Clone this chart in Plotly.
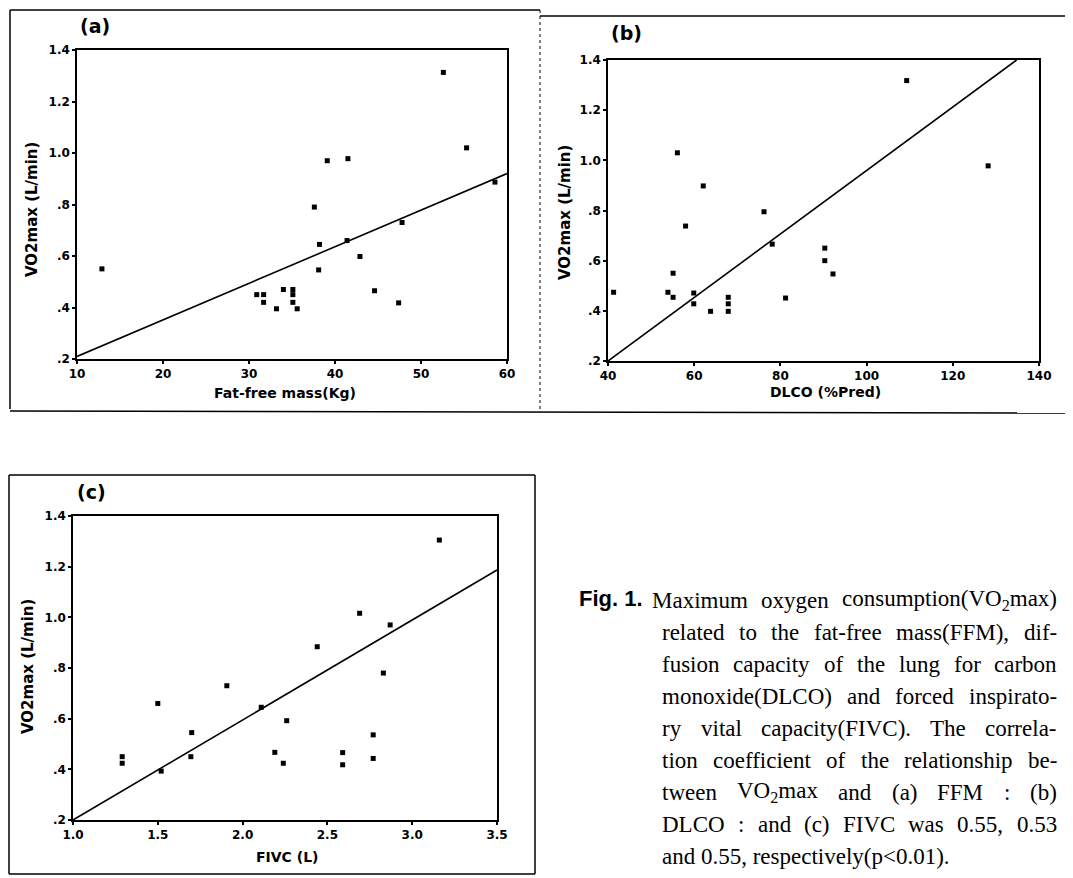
import plotly.graph_objects as go
import re

W, H = 1073, 878
OFF = 8  # page body margin offset, compensated so marks land where the reference has them

# ---------------- data ----------------
# (a) VO2max vs fat-free mass
ffm_x = [12.9, 30.9, 31.7, 31.7, 33.2, 34.0, 35.1, 35.1, 35.1, 35.6, 37.6, 38.2, 38.1,
         39.1, 41.4, 41.5, 42.9, 44.6, 47.4, 47.8, 52.6, 55.3, 58.6]
ffm_y = [0.55, 0.45, 0.45, 0.42, 0.395, 0.47, 0.47, 0.45, 0.42, 0.395, 0.79, 0.645, 0.546,
         0.97, 0.66, 0.978, 0.598, 0.465, 0.418, 0.73, 1.313, 1.02, 0.887]
ffm_fit_x = [10, 60]
ffm_fit_y = [0.21, 0.92]

# (b) VO2max vs DLCO
dlco_x = [41.3, 53.9, 55.1, 55.1, 56.1, 58.0, 59.9, 59.9, 62.1, 63.8, 67.9, 67.9, 67.9,
          76.2, 78.1, 81.2, 90.3, 90.3, 92.2, 109.3, 128.2]
dlco_y = [0.474, 0.474, 0.454, 0.55, 1.03, 0.738, 0.471, 0.428, 0.898, 0.398, 0.454, 0.428, 0.398,
          0.795, 0.666, 0.451, 0.65, 0.60, 0.547, 1.318, 0.978]
dlco_fit_x = [40, 134.8]
dlco_fit_y = [0.2, 1.4]

# (c) VO2max vs FIVC
fivc_x = [1.29, 1.29, 1.50, 1.52, 1.695, 1.70, 1.907, 2.11, 2.19, 2.24, 2.26, 2.44,
          2.59, 2.59, 2.69, 2.77, 2.77, 2.83, 2.87, 3.16]
fivc_y = [0.45, 0.424, 0.66, 0.393, 0.45, 0.545, 0.73, 0.645, 0.467, 0.424, 0.592, 0.884,
          0.466, 0.418, 1.016, 0.536, 0.443, 0.78, 0.97, 1.305]
fivc_fit_x = [1.0, 3.5]
fivc_fit_y = [0.2, 1.187]

y_tickvals = [0.2, 0.4, 0.6, 0.8, 1.0, 1.2, 1.4]
y_ticktext = [".2", ".4", ".6", ".8", "1.0", "1.2", "1.4"]
xa_tickvals = [10, 20, 30, 40, 50, 60]
xb_tickvals = [40, 60, 80, 100, 120, 140]
xc_tickvals = [1.0, 1.5, 2.0, 2.5, 3.0, 3.5]
xc_ticktext = ["1.0", "1.5", "2.0", "2.5", "3.0", "3.5"]

caption_lines = [
    "Maximum oxygen consumption(VO<sub>2</sub>max)",
    "related to the fat-free mass(FFM), dif-",
    "fusion capacity of the lung for carbon",
    "monoxide(DLCO) and forced inspirato-",
    "ry vital capacity(FIVC). The correla-",
    "tion coefficient of the relationship be-",
    "tween VO<sub>2</sub>max and (a) FFM : (b)",
    "DLCO : and (c) FIVC was 0.55, 0.53",
    "and 0.55, respectively(p<0.01).",
]

# ---------------- helpers ----------------
def px_x(p):
    return (p - OFF) / W

def px_y(p):
    return 1 - (p - OFF) / H

TICK_FONT = dict(family="DejaVu Sans", size=12, color="black", weight="bold")
TITLE_FONT = dict(family="DejaVu Sans", size=14, color="black", weight="bold")

fig = go.Figure()

panels = [
    ("", ffm_x, ffm_y, ffm_fit_x, ffm_fit_y, [10, 60], xa_tickvals, [str(v) for v in xa_tickvals], (77, 507), (50, 359)),
    ("2", dlco_x, dlco_y, dlco_fit_x, dlco_fit_y, [40, 140], xb_tickvals, [str(v) for v in xb_tickvals], (608, 1039), (60, 361)),
    ("3", fivc_x, fivc_y, fivc_fit_x, fivc_fit_y, [1.0, 3.5], xc_tickvals, xc_ticktext, (73, 497), (516, 820)),
]

for suf, xs, ys, fx, fy, xr, xtv, xtt, (x0, x1), (yt, yb) in panels:
    xa = "x" + suf
    ya = "y" + suf
    fig.add_trace(go.Scatter(x=fx, y=fy, mode="lines", line=dict(color="black", width=1.6),
                             xaxis=xa, yaxis=ya, showlegend=False, hoverinfo="skip"))
    fig.add_trace(go.Scatter(x=xs, y=ys, mode="markers",
                             marker=dict(symbol="square", size=5, color="black"),
                             xaxis=xa, yaxis=ya, showlegend=False))
    xkey = "xaxis" + suf
    ykey = "yaxis" + suf
    fig.layout[xkey] = dict(
        domain=[px_x(x0), px_x(x1)], range=xr, anchor=ya,
        tickvals=xtv, ticktext=xtt, ticks="outside", ticklen=3, tickwidth=1.5,
        tickcolor="black", showline=True, linecolor="black", linewidth=1.6,
        mirror=True, showgrid=False, zeroline=False, tickfont=TICK_FONT, fixedrange=True,
        automargin=False,
    )
    fig.layout[ykey] = dict(
        domain=[px_y(yb), px_y(yt)], range=[0.2, 1.4], anchor=xa,
        tickvals=y_tickvals, ticktext=y_ticktext, ticks="outside", ticklen=3, tickwidth=1.5,
        tickcolor="black", showline=True, linecolor="black", linewidth=1.6,
        mirror=True, showgrid=False, zeroline=False, tickfont=TICK_FONT, fixedrange=True,
        automargin=False,
    )

annotations = []

def add_text(text, x, y, font, xanchor="center", yanchor="middle", textangle=0):
    annotations.append(dict(text=text, x=px_x(x), y=px_y(y), xref="paper", yref="paper",
                            xanchor=xanchor, yanchor=yanchor, showarrow=False,
                            font=font, textangle=textangle))

LABEL_FONT = dict(family="DejaVu Sans", size=19, color="black", weight="bold")
add_text("(a)", 95, 26, LABEL_FONT)
add_text("(b)", 626, 33, LABEL_FONT)
add_text("(c)", 91, 492, LABEL_FONT)

add_text("Fat-free mass(Kg)", 285, 393, TITLE_FONT)
add_text("DLCO (%Pred)", 825, 392, TITLE_FONT)
add_text("FIVC (L)", 287, 857, TITLE_FONT)
YT_FONT = dict(family="DejaVu Sans", size=15, color="black", weight="bold")
add_text("VO2max (L/min)", 32, 210, YT_FONT, textangle=-90)
add_text("VO2max (L/min)", 565, 213, YT_FONT, textangle=-90)
add_text("VO2max (L/min)", 28, 667, YT_FONT, textangle=-90)

# ---- caption (justified, Times-metric widths for Liberation Serif) ----
TIMES = {
    ' ': 250, 'a': 444, 'b': 500, 'c': 444, 'd': 500, 'e': 444, 'f': 333, 'g': 500, 'h': 500,
    'i': 278, 'j': 278, 'k': 500, 'l': 278, 'm': 778, 'n': 500, 'o': 500, 'p': 500, 'q': 500,
    'r': 333, 's': 389, 't': 278, 'u': 500, 'v': 500, 'w': 722, 'x': 500, 'y': 500, 'z': 444,
    'A': 722, 'B': 667, 'C': 667, 'D': 722, 'E': 611, 'F': 556, 'G': 722, 'H': 722, 'I': 333,
    'J': 389, 'K': 722, 'L': 611, 'M': 889, 'N': 722, 'O': 722, 'P': 556, 'Q': 722, 'R': 667,
    'S': 556, 'T': 611, 'U': 722, 'V': 722, 'W': 944, 'X': 722, 'Y': 722, 'Z': 611,
    '(': 333, ')': 333, ',': 250, '.': 250, '-': 333, ':': 278, ';': 278, '<': 564, '>': 564,
}

def word_width(word, size):
    total = 0.0
    scale = 1.0
    for part in re.split(r"(<sub>|</sub>)", word):
        if part == "<sub>":
            scale = 0.7
            continue
        if part == "</sub>":
            scale = 1.0
            continue
        for ch in part:
            total += TIMES.get(ch, 500) * scale
    return total * size / 1000.0

CAP_SIZE = 23
CAP_FONT = dict(family="Liberation Serif", size=CAP_SIZE, color="black")
right_edge = 1055
line_starts = [650] + [660] * (len(caption_lines) - 1)
line_y0 = 600
line_gap = 32

for i, line in enumerate(caption_lines):
    y = line_y0 + i * line_gap
    xstart = line_starts[i]
    if i == len(caption_lines) - 1:
        add_text(line.replace("<0", "&lt;0"), xstart, y, CAP_FONT, xanchor="left")
        continue
    words = line.split(" ")
    widths = [word_width(w, CAP_SIZE) for w in words]
    gap = (right_edge - xstart - sum(widths)) / (len(words) - 1)
    x = xstart
    for w, wd in zip(words, widths):
        add_text(w, x, y, CAP_FONT, xanchor="left")
        x += wd + gap

add_text("<b>Fig. 1.</b>", 577, 598, dict(family="Liberation Sans", size=22, color="black"), xanchor="left")

fig.layout.annotations = annotations

# ---------------- frames ----------------
line_style = dict(color="black", width=1.5)

def pline(x0, y0, x1, y1, style):
    return dict(type="line", xref="paper", yref="paper",
                x0=px_x(x0), x1=px_x(x1), y0=px_y(y0), y1=px_y(y1), line=style)

shapes = [
    pline(10, 10, 540, 10, line_style),
    pline(540, 16, 1068, 16, line_style),
    pline(10, 10, 10, 409, line_style),
    pline(10, 411, 1068, 413, line_style),
    pline(1068, 16, 1068, 413, line_style),
    pline(540, 10, 540, 412, dict(color="black", width=1, dash="dot")),
    pline(9, 475, 535, 475, line_style),
    pline(9, 475, 9, 874, line_style),
    pline(535, 475, 535, 874, line_style),
    pline(9, 874, 535, 874, line_style),
]
fig.layout.shapes = shapes

fig.update_layout(
    width=W, height=H,
    margin=dict(l=0, r=0, t=0, b=0, autoexpand=False),
    paper_bgcolor="white", plot_bgcolor="white",
    showlegend=False,
)

fig.write_html("out.html")
